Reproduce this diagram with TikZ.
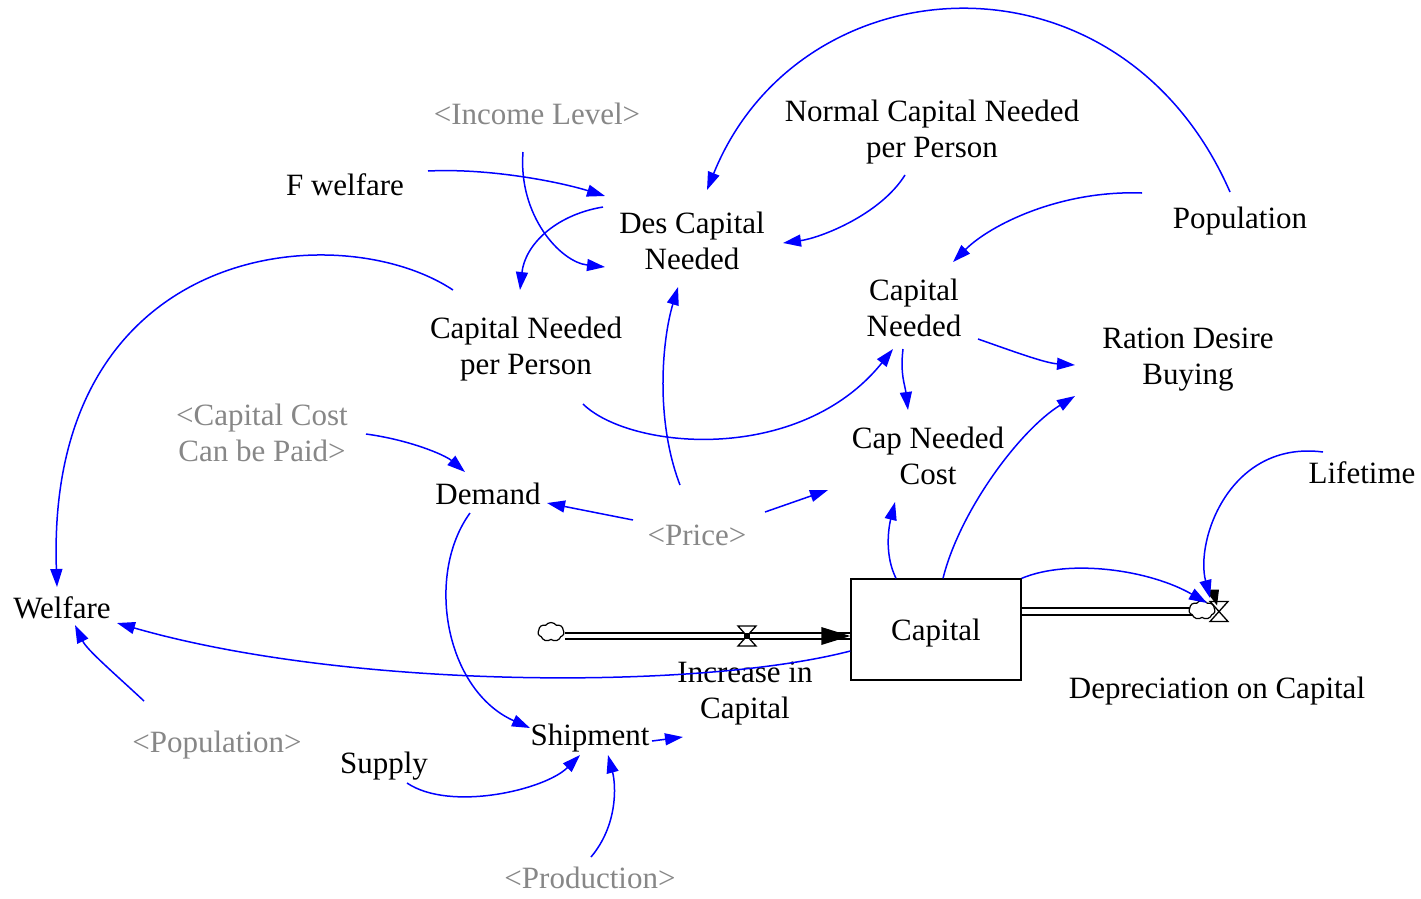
\documentclass[tikz,border=0pt]{standalone}
\usepackage{fontspec}
\setmainfont{Liberation Serif}
\usetikzlibrary{arrows.meta,shapes.symbols}
\begin{document}
\begin{tikzpicture}[x=1pt,y=-1pt,
  var/.style={font=\fontsize{31}{36}\selectfont, align=center, inner sep=0pt, text=black},
  shadowvar/.style={var, text=black!47},
  lnk/.style={draw=blue, line width=1.5pt, -{Triangle[length=18pt,width=12pt]}},
  pipe/.style={draw=black, line width=2pt, double=white, double distance=4.5pt},
  stock/.style={draw=black, line width=1.4pt, minimum width=170pt, minimum height=101pt, inner sep=0pt, text height=29pt, text depth=7pt, font=\fontsize{31}{36}\selectfont},
  sink/.style={cloud, cloud puffs=7, cloud puff arc=110, draw=black, line width=1.2pt, fill=white, minimum width=26pt, minimum height=19pt, inner sep=0pt},
  valvestyle/.style={draw=black, line width=1.3pt, fill=white}
]
\useasboundingbox (0,0) rectangle (1421,898);

% auxiliary and shadow variables
\node[shadowvar] (income) at (537,114) {<Income Level>};
\node[var] (normal) at (932,132) {Normal Capital Needed\\per Person};
\node[var] (fwel) at (345,185) {F welfare};
\node[var] (des) at (692,241) {Des Capital\\Needed};
\node[var] (pop) at (1240,221) {Population};
\node[var] (capneed) at (914,308) {Capital\\Needed};
\node[var] (ration) at (1188,360) {Ration Desire\\Buying};
\node[var] (cnpp) at (526,349) {Capital Needed\\per Person};
\node[shadowvar] (ccost) at (262,433) {<Capital Cost\\Can be Paid>};
\node[var] (cncost) at (928,456) {Cap Needed\\Cost};
\node[var] (demand) at (488,494) {Demand};
\node[shadowvar] (price) at (697,535) {<Price>};
\node[var] (lifetime) at (1362,473) {Lifetime};
\node[var] (welfare) at (62,608) {Welfare};
\node[shadowvar] (gpop) at (217,745) {<Population>};
\node[var] (supply) at (384,766) {Supply};
\node[var] (ship) at (590,738) {Shipment};
\node[shadowvar] (prod) at (590,878) {<Production>};
\coordinate (shipout) at (683,737);

% stock with its inflow and outflow
\node[stock] (capital) at (936,629.5) {Capital};
\node[sink] (cloud1) at (551,632) {};
\coordinate (v1) at (747,636);
\draw[pipe] (cloud1.east |- v1) -- (v1 -| capital.west);
\fill[black] (v1 -| capital.west) -- ++(-29,-9) -- ++(0,18) -- cycle;
\draw[valvestyle] (v1) ++(-9,-10) -- ++(18,0) -- ++(-18,20) -- ++(18,0) -- cycle;
\fill[black] (v1) ++(-3,-3) rectangle ++(6,6);
\node[var] (incr) at (745,694) {Increase in\\Capital};

\coordinate (v2) at (1219,611.5);
\draw[pipe] (capital.east |- v2) -- ([xshift=-22pt]v2);
\fill[black] ([shift={(-14,-22)}]v2) -- ++(14,0) -- ++(-2,16) -- cycle;
\node[sink] (cloud2) at (1202,610) {};
\draw[valvestyle, fill=none] (v2) ++(-9,-10) -- ++(18,0) -- ++(-18,20) -- ++(18,0) -- cycle;
\node[var] (depr) at (1217,691) {Depreciation on Capital};

% causal links
\draw[lnk] ([shift={(-10,-29)}]pop.center) .. controls +(-110,-252) and +(93,-230) .. ([shift={(15,-51)}]des.center);
\draw[lnk] ([shift={(-27,43)}]normal.center) .. controls +(-25,40) and +(37,-5) .. ([shift={(91,2)}]des.center);
\draw[lnk] ([shift={(83,-14)}]fwel.center) .. controls +(62,-3) and +(-45,-14) .. ([shift={(-87,-45)}]des.center);
\draw[lnk] ([shift={(-14,38)}]income.center) .. controls +(-5,63) and +(-45,-5) .. ([shift={(-87,26)}]des.center);
\draw[lnk] ([shift={(-89,-34)}]des.center) .. controls +(-48,8) and +(5,-45) .. ([shift={(-6,-59)}]cnpp.center);
\draw[lnk] ([shift={(-73,-59)}]cnpp.center) .. controls +(-113,-75) and +(-12,-347) .. ([shift={(-5,-21)}]welfare.center);
\draw[lnk] ([shift={(57,55)}]cnpp.center) .. controls +(47,46) and +(-93,116) .. ([shift={(-21,41)}]capneed.center);
\draw[lnk] ([shift={(-17,-50)}]price.center) .. controls +(-25,-65) and +(-16,53) .. ([shift={(-14,46)}]des.center);
\draw[lnk] ([shift={(-64,-15)}]price.center) -- ([shift={(59,9)}]demand.center);
\draw[lnk] ([shift={(68,-23)}]price.center) -- ([shift={(-100,34)}]cncost.center);
\draw[lnk] ([shift={(104,1)}]ccost.center) .. controls +(44,6) and +(-20,-17) .. ([shift={(-23,-22)}]demand.center);
\draw[lnk] ([shift={(-11,41)}]capneed.center) .. controls +(-3,25) and +(-3,-25) .. ([shift={(-20,-46)}]cncost.center);
\draw[lnk] ([shift={(64,31)}]capneed.center) .. controls +(37,13) and +(-30,-2) .. ([shift={(-113,5)}]ration.center);
\draw[lnk] ([shift={(-98,-28)}]pop.center) .. controls +(-82,-3) and +(37,-37) .. ([shift={(39,-46)}]capneed.center);
\draw[lnk] ([xshift=7pt]capital.north) .. controls +(17,-68) and +(-55,34) .. ([shift={(-113,36)}]ration.center);
\draw[lnk] ([xshift=-40pt]capital.north) .. controls +(-11,-22) and +(-7,28) .. ([shift={(-33,46)}]cncost.center);
\draw[lnk] ([shift={(-39,-21)}]lifetime.center) .. controls +(-93,-12) and +(-15,-58) .. ([shift={(-9,-13.5)}]v2);
\draw[lnk] (capital.north east) .. controls +(48,-20) and +(-57,-33) .. ([shift={(-12,-8.5)}]v2);
\draw[lnk] ([shift={(0,21.5)}]capital.west) .. controls +(-150,39) and +(233,67) .. ([shift={(55,15)}]welfare.center);
\draw[lnk] ([shift={(-73,-44)}]gpop.center) .. controls +(-30,-28) and +(12,25) .. ([shift={(13,17)}]welfare.center);
\draw[lnk] ([shift={(-18,19)}]demand.center) .. controls +(-45,62) and +(-85,-38) .. ([shift={(-60,-10)}]ship.center);
\draw[lnk] ([shift={(23,17)}]supply.center) .. controls +(43,29) and +(-35,35) .. ([shift={(-10,17)}]ship.center);
\draw[lnk] ([shift={(1,-21)}]prod.center) .. controls +(27,-32) and +(8,30) .. ([shift={(18,17)}]ship.center);
\draw[lnk] ([shift={(62,3)}]ship.center) -- (shipout);
\end{tikzpicture}
\end{document}
